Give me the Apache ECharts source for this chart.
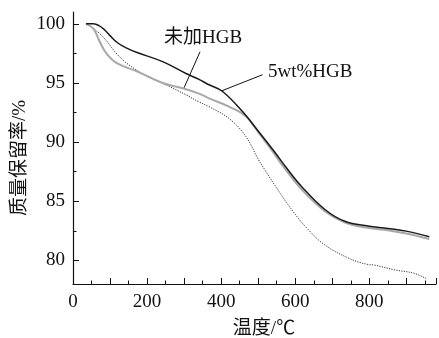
<!DOCTYPE html>
<html><head><meta charset="utf-8">
<script src="https://cdn.jsdelivr.net/npm/echarts@6/dist/echarts.min.js"></script>
<style>html,body{margin:0;padding:0;background:#fff}#c{width:439px;height:338px}</style>
</head><body><div id="c"></div>
<script>
// 5wt%HGB (black solid)
const blackX = [35,55,70,85,100,120,145,171,242,305,340,367,403,457,501,546,573,617,680,734,796,850,903,962];
const blackY = [100,100,99.85,99.5,99.0,98.4,97.95,97.6,96.8,95.8,95.3,94.85,94.3,92.6,90.9,89.1,87.95,86.25,84.3,83.3,82.9,82.7,82.45,82.0];
// 未加HGB (gray)
const grayX = [35,55,72,90,117,171,242,296,340,367,421,466,501,537,564,617,680,734,796,850,903,962];
const grayY = [100,99.6,98.5,97.5,96.7,96.0,95.0,94.55,94.1,93.7,93.0,92.2,90.8,89.3,88.1,86.0,84.15,83.2,82.75,82.55,82.25,81.8];
// third curve (dotted)
const dotX = [35,55,81,126,171,215,260,305,340,367,421,466,501,519,546,590,635,680,743,796,814,868,921,957];
const dotY = [100,99.6,98.9,97.2,96.1,95.4,94.7,94.0,93.4,93.0,92.0,90.5,88.5,87.6,86.3,84.3,82.6,81.3,80.2,79.65,79.6,79.2,78.9,78.4];
const yMajor = [80,85,90,95,100];
const yMinor = [82.5,87.5,92.5,97.5];
const xLabels = [0,200,400,600,800];
const labelGray = '未加HGB';
const labelBlack = '5wt%HGB';
const leaderGray = [[343,97.64],[300,94.6]];
const leaderBlack = [[512,95.7],[402,94.34]];

function zip(a,b){return a.map((v,i)=>[v,b[i]]);}
const serif = 'Liberation Serif, "Noto Sans CJK SC", serif';
const chart = echarts.init(document.getElementById('c'), null, {renderer:'canvas'});
chart.setOption({
  animation:false,
  backgroundColor:'#fff',
  grid:{left:73,top:12,right:0,bottom:54,containLabel:false},
  xAxis:{type:'value',min:0,max:980,interval:100,
    axisLine:{lineStyle:{color:'#111',width:1.2}},
    axisTick:{inside:true,length:6,lineStyle:{color:'#111'}},
    minorTick:{show:true,splitNumber:2,length:3.5,lineStyle:{color:'#111'}},
    splitLine:{show:false},
    axisLabel:{margin:9,color:'#111',fontFamily:serif,fontSize:19,
      formatter:v=>xLabels.indexOf(v)>=0?String(v):''}
  },
  yAxis:[{type:'value',min:78,max:101,
    axisLine:{show:true,lineStyle:{color:'#111',width:1.2}},
    axisTick:{show:true,inside:true,length:6,customValues:yMajor,lineStyle:{color:'#111'}},
    axisLabel:{margin:8,color:'#111',fontFamily:serif,fontSize:19,customValues:yMajor},
    splitLine:{show:false}
  },{type:'value',min:78,max:101,position:'left',
    axisLine:{show:false},
    axisTick:{show:true,inside:true,length:3.5,customValues:yMinor,lineStyle:{color:'#111'}},
    axisLabel:{show:false,customValues:yMinor},
    splitLine:{show:false}
  }],
  series:[
    {type:'line',data:zip(dotX,dotY),smooth:0.4,symbol:'none',
      lineStyle:{color:'#333',width:1,type:[1.2,1.3]}},
    {type:'line',data:zip(grayX,grayY),smooth:0.4,symbol:'none',
      lineStyle:{color:'#a8a8a8',width:2},
      markLine:{silent:true,symbol:['none','none'],label:{show:false},
        lineStyle:{color:'#111',width:1,type:'solid'},
        data:[[{coord:leaderGray[0]},{coord:leaderGray[1]}]]}},
    {type:'line',data:zip(blackX,blackY),smooth:0.4,symbol:'none',
      lineStyle:{color:'#1a1a1a',width:1.5},
      markLine:{silent:true,symbol:['none','none'],label:{show:false},
        lineStyle:{color:'#111',width:1,type:'solid'},
        data:[[{coord:leaderBlack[0]},{coord:leaderBlack[1]}]]}}
  ],
  graphic:[
    {type:'text',left:164,top:29,style:{text:labelGray,font:'19px '+serif,fill:'#111'}},
    {type:'text',left:268,top:63,style:{text:labelBlack,font:'19px '+serif,fill:'#111'}},
    {type:'text',x:20,y:158,rotation:Math.PI/2,
      style:{text:'质量保留率/%',font:'19px '+serif,fill:'#111',align:'center',verticalAlign:'middle'}},
    {type:'text',x:264,y:329,
      style:{text:'温度/℃',font:'19px '+serif,fill:'#111',align:'center',verticalAlign:'middle'}}
  ]
});
</script></body></html>
